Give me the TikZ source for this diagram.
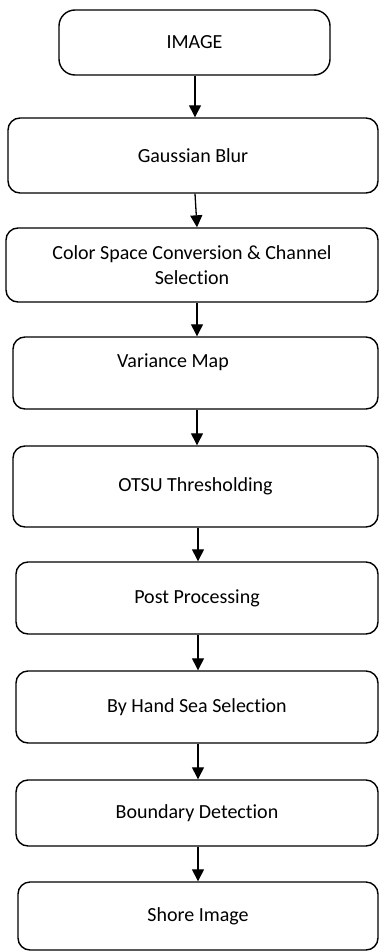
\documentclass[tikz,border=0pt]{standalone}
\usepackage{fontspec}
\setmainfont{Carlito}[Ligatures=NoCommon]
\usepackage{tikz}
\usetikzlibrary{arrows.meta}

\begin{document}
\begin{tikzpicture}[x=1pt,y=-1pt,font=\fontsize{20}{25}\selectfont,
	box/.style={draw,line width=1.4pt,rounded corners=12pt,align=center,inner sep=0pt},
	arr/.style={line width=1.3pt,-{Triangle[length=12pt,width=12pt]}}]
\useasboundingbox (0,0) rectangle (379,952);
\node[box,rounded corners=16pt,minimum width=271pt,minimum height=65pt] (image) at (194.5,42.5) {IMAGE};
\node[box,minimum width=370pt,minimum height=75pt] (blur) at (193,155.5) {Gaussian Blur};
\node[box,minimum width=372pt,minimum height=74pt] (color) at (192,265) {Color Space Conversion \& Channel\\Selection};
\node[box,minimum width=365pt,minimum height=72pt,
	label={[xshift=-22.5pt,yshift=11pt]center:Variance Map}] (variance) at (195.5,373) {};
\node[box,minimum width=365pt,minimum height=81pt] (otsu) at (195.5,486.5) {OTSU Thresholding};
\node[box,minimum width=362pt,minimum height=72pt] (post) at (197,598) {Post Processing};
\node[box,minimum width=362pt,minimum height=72pt] (sea) at (197,707) {By Hand Sea Selection};
\node[box,minimum width=362pt,minimum height=66pt] (boundary) at (197,813) {Boundary Detection};
\node[box,minimum width=360pt,minimum height=68pt] (shore) at (198,916) {Shore Image};
\foreach \a/\b/\p/\q in {image/blur/195/195,blur/color/195/197,color/variance/197/197,
	variance/otsu/197/197,otsu/post/198/198,post/sea/198/198,sea/boundary/198/198,boundary/shore/198/198}
	\draw[arr] (\p,0 |- \a.south) -- (\q,0 |- \b.north);
\end{tikzpicture}
\end{document}
